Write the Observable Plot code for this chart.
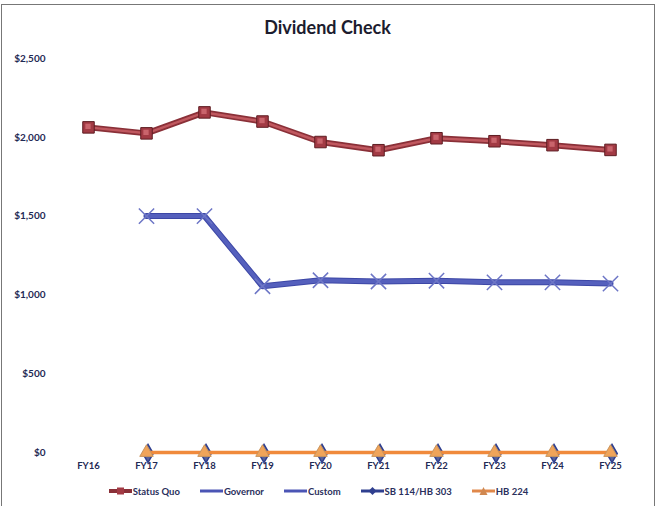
<!DOCTYPE html>
<html>
<head>
<meta charset="utf-8">
<script src="https://cdn.jsdelivr.net/npm/d3@7"></script>
<script src="https://cdn.jsdelivr.net/npm/@observablehq/plot@0.6"></script>
<style>
  html, body { margin: 0; padding: 0; background: #fff; }
  #wrap { position: relative; width: 665px; height: 506px; overflow: hidden; font-family: Lato, "Open Sans", sans-serif; }
  #frame { position: absolute; left: 1px; top: 4px; width: 654px; height: 510px; border: 1.5px solid #777; box-sizing: border-box; }
  #title { position: absolute; left: 0; width: 655px; top: 16px; text-align: center; font-weight: 700; font-size: 18px; color: #1c1c2e; }
  #chart { position: absolute; left: 0; top: 40px; }
  #legend { position: absolute; left: 0; top: 485px; width: 637px; display: flex; justify-content: center; gap: 20px; font-size: 9.5px; font-weight: 700; color: #2a2f5c; }
  .item { display: flex; align-items: center; }
  .item svg { margin-right: 1px; }
</style>
</head>
<body>
<div id="wrap">
  <div id="frame"></div>
  <div id="title">Dividend Check</div>
  <div id="chart"></div>
  <div id="legend"></div>
</div>
<script>
const years = ["FY16","FY17","FY18","FY19","FY20","FY21","FY22","FY23","FY24","FY25"];
const statusQuo = [2063, 2025, 2158, 2100, 1970, 1918, 1994, 1975, 1950, 1920];
const governorYears = ["FY17","FY18","FY19","FY20","FY21","FY22","FY23","FY24","FY25"];
const governor = [1500, 1500, 1055, 1093, 1085, 1090, 1080, 1080, 1072];
const custom = [1500, 1500, 1055, 1093, 1085, 1090, 1080, 1080, 1072];
const sb114 = [0, 0, 0, 0, 0, 0, 0, 0, 0];
const hb224 = [0, 0, 0, 0, 0, 0, 0, 0, 0];
const yTicks = [0, 500, 1000, 1500, 2000, 2500];
const seriesNames = ["Status Quo", "Governor", "Custom", "SB 114/HB 303", "HB 224"];

const sq = years.map((x, i) => ({x, y: statusQuo[i]}));
const gov = governorYears.map((x, i) => ({x, y: governor[i]}));
const cus = governorYears.map((x, i) => ({x, y: custom[i]}));
const sb = governorYears.map((x, i) => ({x, y: sb114[i]}));
const hb = governorYears.map((x, i) => ({x, y: hb224[i]}));

const fmt = d => "$" + d3.format(",")(d);

const chart = Plot.plot({
  width: 665,
  height: 440,
  marginLeft: 86,
  marginRight: 54,
  marginTop: 18,
  marginBottom: 28,
  x: {type: "point", domain: years, padding: 0, label: null},
  y: {domain: [0, 2500], label: null},
  style: {fontFamily: "Lato, 'Open Sans', sans-serif", background: "transparent"},
  marks: [
    Plot.axisY({ticks: yTicks, tickFormat: fmt, tickSize: 0, tickPadding: 41, fontSize: 10, fontWeight: 700, fill: "#1f2a55", label: null}),
    Plot.axisX({tickSize: 0, tickPadding: 10, fontSize: 9.5, fontWeight: 700, fill: "#1f2a55", label: null}),
    // SB 114/HB 303 (behind)
    Plot.line(sb, {x: "x", y: "y", stroke: "#2f3f8f", strokeWidth: 3}),
    Plot.dot(sb, {x: "x", y: "y", symbol: "diamond", r: 5.5, fill: "#5a6398", stroke: "#2f3f8f", dx: 1.5, dy: 1}),
    // HB 224
    Plot.line(hb, {x: "x", y: "y", stroke: "#f08a3c", strokeWidth: 3.5}),
    Plot.dot(hb, {x: "x", y: "y", symbol: "triangle", r: 5, fill: "#f0a45a", stroke: "#c9955e", strokeWidth: 1}),
    // Custom and Governor
    Plot.line(cus, {x: "x", y: "y", stroke: "#3d47a6", strokeWidth: 6}),
    Plot.line(gov, {x: "x", y: "y", stroke: "#5560bd", strokeWidth: 4}),
    Plot.dot(gov, {x: "x", y: "y", symbol: "times", r: 7, stroke: "#6d76c6", strokeWidth: 1.5}),
    // Status Quo
    Plot.line(sq, {x: "x", y: "y", stroke: "#8a3038", strokeWidth: 6}),
    Plot.line(sq, {x: "x", y: "y", stroke: "#c0585f", strokeWidth: 2.5}),
    Plot.dot(sq, {x: "x", y: "y", symbol: "square", r: 6.5, fill: "#a23a44", stroke: "#5e1d22", strokeWidth: 1}),
    Plot.dot(sq, {x: "x", y: "y", symbol: "square", r: 3, fill: "#c9646c", dx: -0.5, dy: -1})
  ]
});
document.getElementById("chart").appendChild(chart);

// Legend
const legendStyles = [
  {line: "#8a3038", lw: 4, marker: "square", fill: "#a23a44"},
  {line: "#4b55b5", lw: 3, marker: null},
  {line: "#4b55b5", lw: 3, marker: null},
  {line: "#2f3f8f", lw: 3, marker: "diamond", fill: "#2f3f8f"},
  {line: "#e0884a", lw: 3, marker: "triangle", fill: "#d08850"}
];
const legend = document.getElementById("legend");
seriesNames.forEach((name, i) => {
  const s = legendStyles[i];
  const item = document.createElement("div");
  item.className = "item";
  let mk = "";
  if (s.marker === "square") mk = `<rect x="8" y="2.5" width="7" height="7" fill="${s.fill}"/>`;
  if (s.marker === "diamond") mk = `<path d="M11.5 2 L15.5 6 L11.5 10 L7.5 6 Z" fill="${s.fill}"/>`;
  if (s.marker === "triangle") mk = `<path d="M11.5 2 L15.5 10 L7.5 10 Z" fill="${s.fill}"/>`;
  item.innerHTML = `<svg width="23" height="12"><line x1="0" y1="6" x2="23" y2="6" stroke="${s.line}" stroke-width="${s.lw}"/>${mk}</svg><span>${name}</span>`;
  legend.appendChild(item);
});
</script>
</body>
</html>
